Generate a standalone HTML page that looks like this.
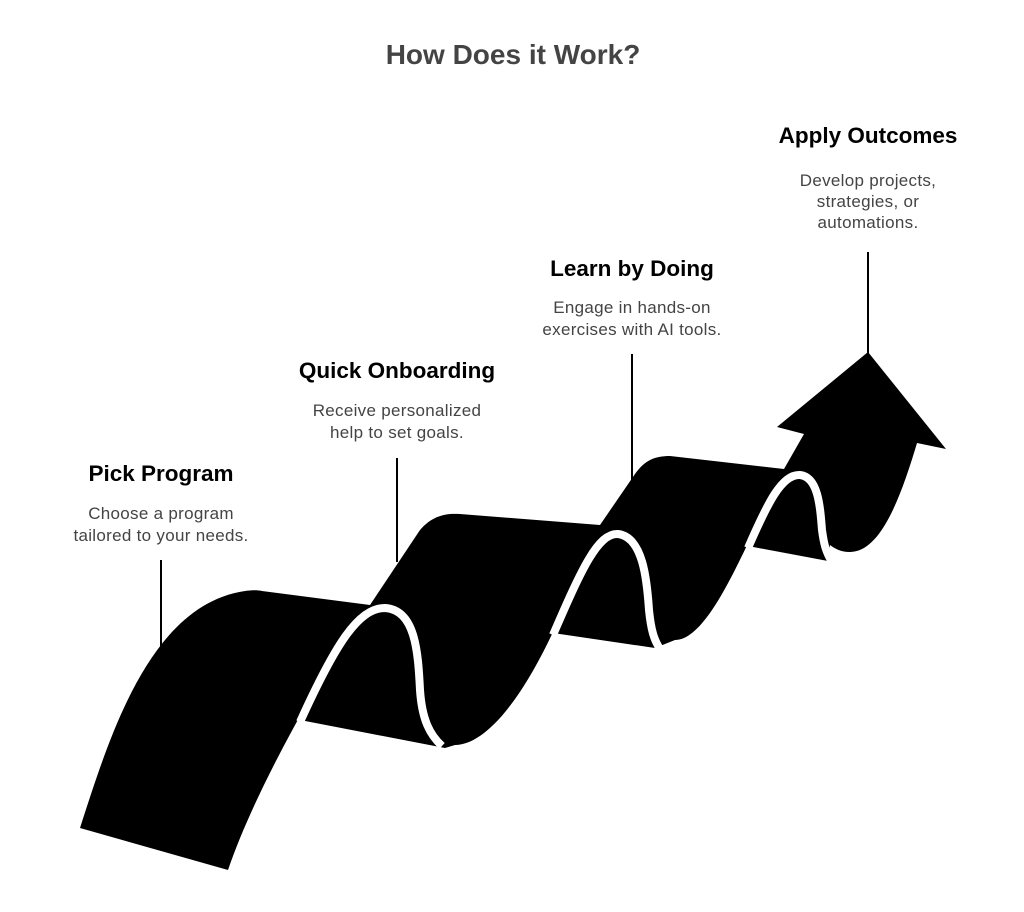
<!DOCTYPE html>
<html><head><meta charset="utf-8"><style>
html,body{margin:0;padding:0;background:#fff;}
svg{display:block;}
.t{font-family:"Liberation Sans",sans-serif;}
.h{font-weight:bold;font-size:22.5px;fill:#000;}
.d{font-size:17px;fill:#444;letter-spacing:0.3px;}
</style></head><body>
<svg width="1024" height="912" viewBox="0 0 1024 912" xmlns="http://www.w3.org/2000/svg">
<text class="t" x="513" y="64" text-anchor="middle" font-size="28" font-weight="bold" fill="#444">How Does it Work?</text>

<g class="t" text-anchor="middle">
<text class="h" x="161" y="481">Pick Program</text>
<text class="d" x="161" y="519">Choose a program</text>
<text class="d" x="161" y="541">tailored to your needs.</text>

<text class="h" x="397" y="378">Quick Onboarding</text>
<text class="d" x="397" y="416">Receive personalized</text>
<text class="d" x="397" y="438">help to set goals.</text>

<text class="h" x="632" y="276">Learn by Doing</text>
<text class="d" x="632" y="313">Engage in hands-on</text>
<text class="d" x="632" y="335">exercises with AI tools.</text>

<text class="h" x="868" y="143">Apply Outcomes</text>
<text class="d" x="868" y="186">Develop projects,</text>
<text class="d" x="868" y="207">strategies, or</text>
<text class="d" x="868" y="228">automations.</text>
</g>

<g stroke="#000" stroke-width="2">
<line x1="161" y1="560" x2="161" y2="652"/>
<line x1="397" y1="458" x2="397" y2="562"/>
<line x1="632" y1="354" x2="632" y2="480"/>
<line x1="868" y1="252" x2="868" y2="366"/>
</g>

<path fill="#000" d="M80,828 C110,735 150,605 245,591 C252,590 258,590 262,591 L370,605 L420,530 C432,516 445,513 460,514 L600,525 L635,474 C645,460 655,456 670,456 L784,469 L804,434 L777,427 L868,352 L946,449 L917,443 C900,500 880,552 850,552 C840,552 834,548 830,545 L828,561 L748,546 L760,518 C735,570 705,640 675,640 L655,648 L553,633 L565,605 C525,700 485,745 455,745 L445,748 L300,720 L310,698 C275,760 245,820 228,870 Z"/>

<g fill="none" stroke="#fff" stroke-width="8" stroke-linecap="butt">
<path d="M300,722 C335,645 358,608 385,608 C415,610 418,650 420,690 C422,720 430,735 442,746"/>
<path d="M553,635 C582,568 598,533 618,534 C643,537 647,580 649,610 C651,630 654,640 660,649"/>
<path d="M748,548 C768,502 782,474 800,475 C818,477 820,505 822,530 C824,545 826,552 832,562"/>
</g>
</svg>
</body></html>
